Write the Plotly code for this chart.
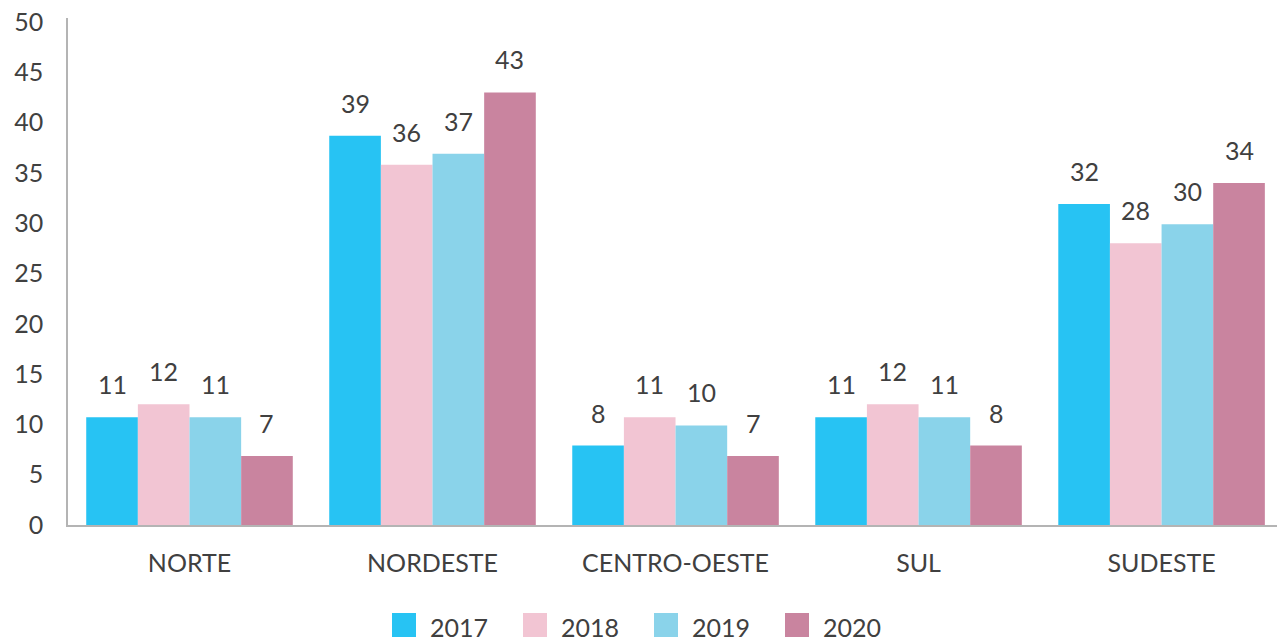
import plotly.graph_objects as go

regions = ["NORTE", "NORDESTE", "CENTRO-OESTE", "SUL", "SUDESTE"]
years = ["2017", "2018", "2019", "2020"]
values_2017 = [10.7, 38.7, 7.9, 10.7, 31.9]
values_2018 = [12.0, 35.8, 10.7, 12.0, 28.0]
values_2019 = [10.7, 36.9, 9.9, 10.7, 29.9]
values_2020 = [6.85, 43.0, 6.85, 7.9, 34.0]
y_ticks = [0, 5, 10, 15, 20, 25, 30, 35, 40, 45, 50]

series = [values_2017, values_2018, values_2019, values_2020]
colors = ["#27C3F3", "#F2C5D3", "#8AD3EA", "#C9849F"]

FONT = "Lato"
TEXT_COLOR = "#404040"
AXIS_COLOR = "#b4b4b4"
BARGAP = 0.15

# pixel geometry of the plot area (used for the hand-drawn legend)
W, H = 1277, 644
L, T, B = 68, 18, 119
plot_w = W - L
plot_h = H - T - B

fig = go.Figure()

for year, vals, color in zip(years, series, colors):
    fig.add_trace(go.Bar(
        x=list(range(len(regions))),
        y=vals,
        name=year,
        marker=dict(color=color, line_width=0),
        showlegend=False,
        hoverinfo="x+y+name",
    ))

# value labels above bars
n = len(years)
w = (1 - BARGAP) / n
for j, vals in enumerate(series):
    for i, v in enumerate(vals):
        fig.add_annotation(
            x=i + (j - (n - 1) / 2) * w, y=v,
            text=f"{round(v):d}",
            showarrow=False, yanchor="bottom", yshift=16,
            font=dict(family=FONT, size=25, color=TEXT_COLOR),
        )

# legend drawn by hand so the swatches can be large squares
def px_x(p):
    return (p - L) / plot_w

def px_y(p):
    return (H - B - p) / plot_h

for j, (year, color) in enumerate(zip(years, colors)):
    left = 392 + 131 * j
    fig.add_shape(
        type="rect", xref="paper", yref="paper",
        x0=px_x(left), x1=px_x(left + 24),
        y0=px_y(637), y1=px_y(613),
        fillcolor=color, line_width=0,
    )
    fig.add_annotation(
        xref="paper", yref="paper",
        x=px_x(left + 36), y=px_y(627),
        text=year, showarrow=False, xanchor="left", yanchor="middle",
        font=dict(family=FONT, size=25, color=TEXT_COLOR),
    )

fig.update_xaxes(
    tickmode="array",
    tickvals=list(range(len(regions))),
    ticktext=regions,
    range=[-0.5, 4.475],   # last group runs a little past the right edge
    showline=True, linecolor=AXIS_COLOR, linewidth=1.5,
    showgrid=False, zeroline=False, ticks="",
    ticklabelstandoff=15,
    tickfont=dict(family=FONT, size=25, color=TEXT_COLOR),
)
fig.update_yaxes(
    range=[0, 50.4],
    tickvals=y_ticks,
    showline=True, linecolor=AXIS_COLOR, linewidth=1.5,
    showgrid=False, zeroline=False, ticks="",
    ticklabelstandoff=18,
    tickfont=dict(family=FONT, size=25, color=TEXT_COLOR),
)

fig.update_layout(
    width=W, height=H,
    margin=dict(l=L, r=0, t=T, b=B),
    barmode="group",
    bargap=BARGAP,
    bargroupgap=0,
    plot_bgcolor="white",
    paper_bgcolor="white",
    showlegend=False,
    font=dict(family=FONT, color=TEXT_COLOR),
)

# drop the default body margin so the figure sits flush in the window
fig.write_html(
    "out.html",
    config={"displayModeBar": False},
    post_script="document.body.style.margin='0';",
)
